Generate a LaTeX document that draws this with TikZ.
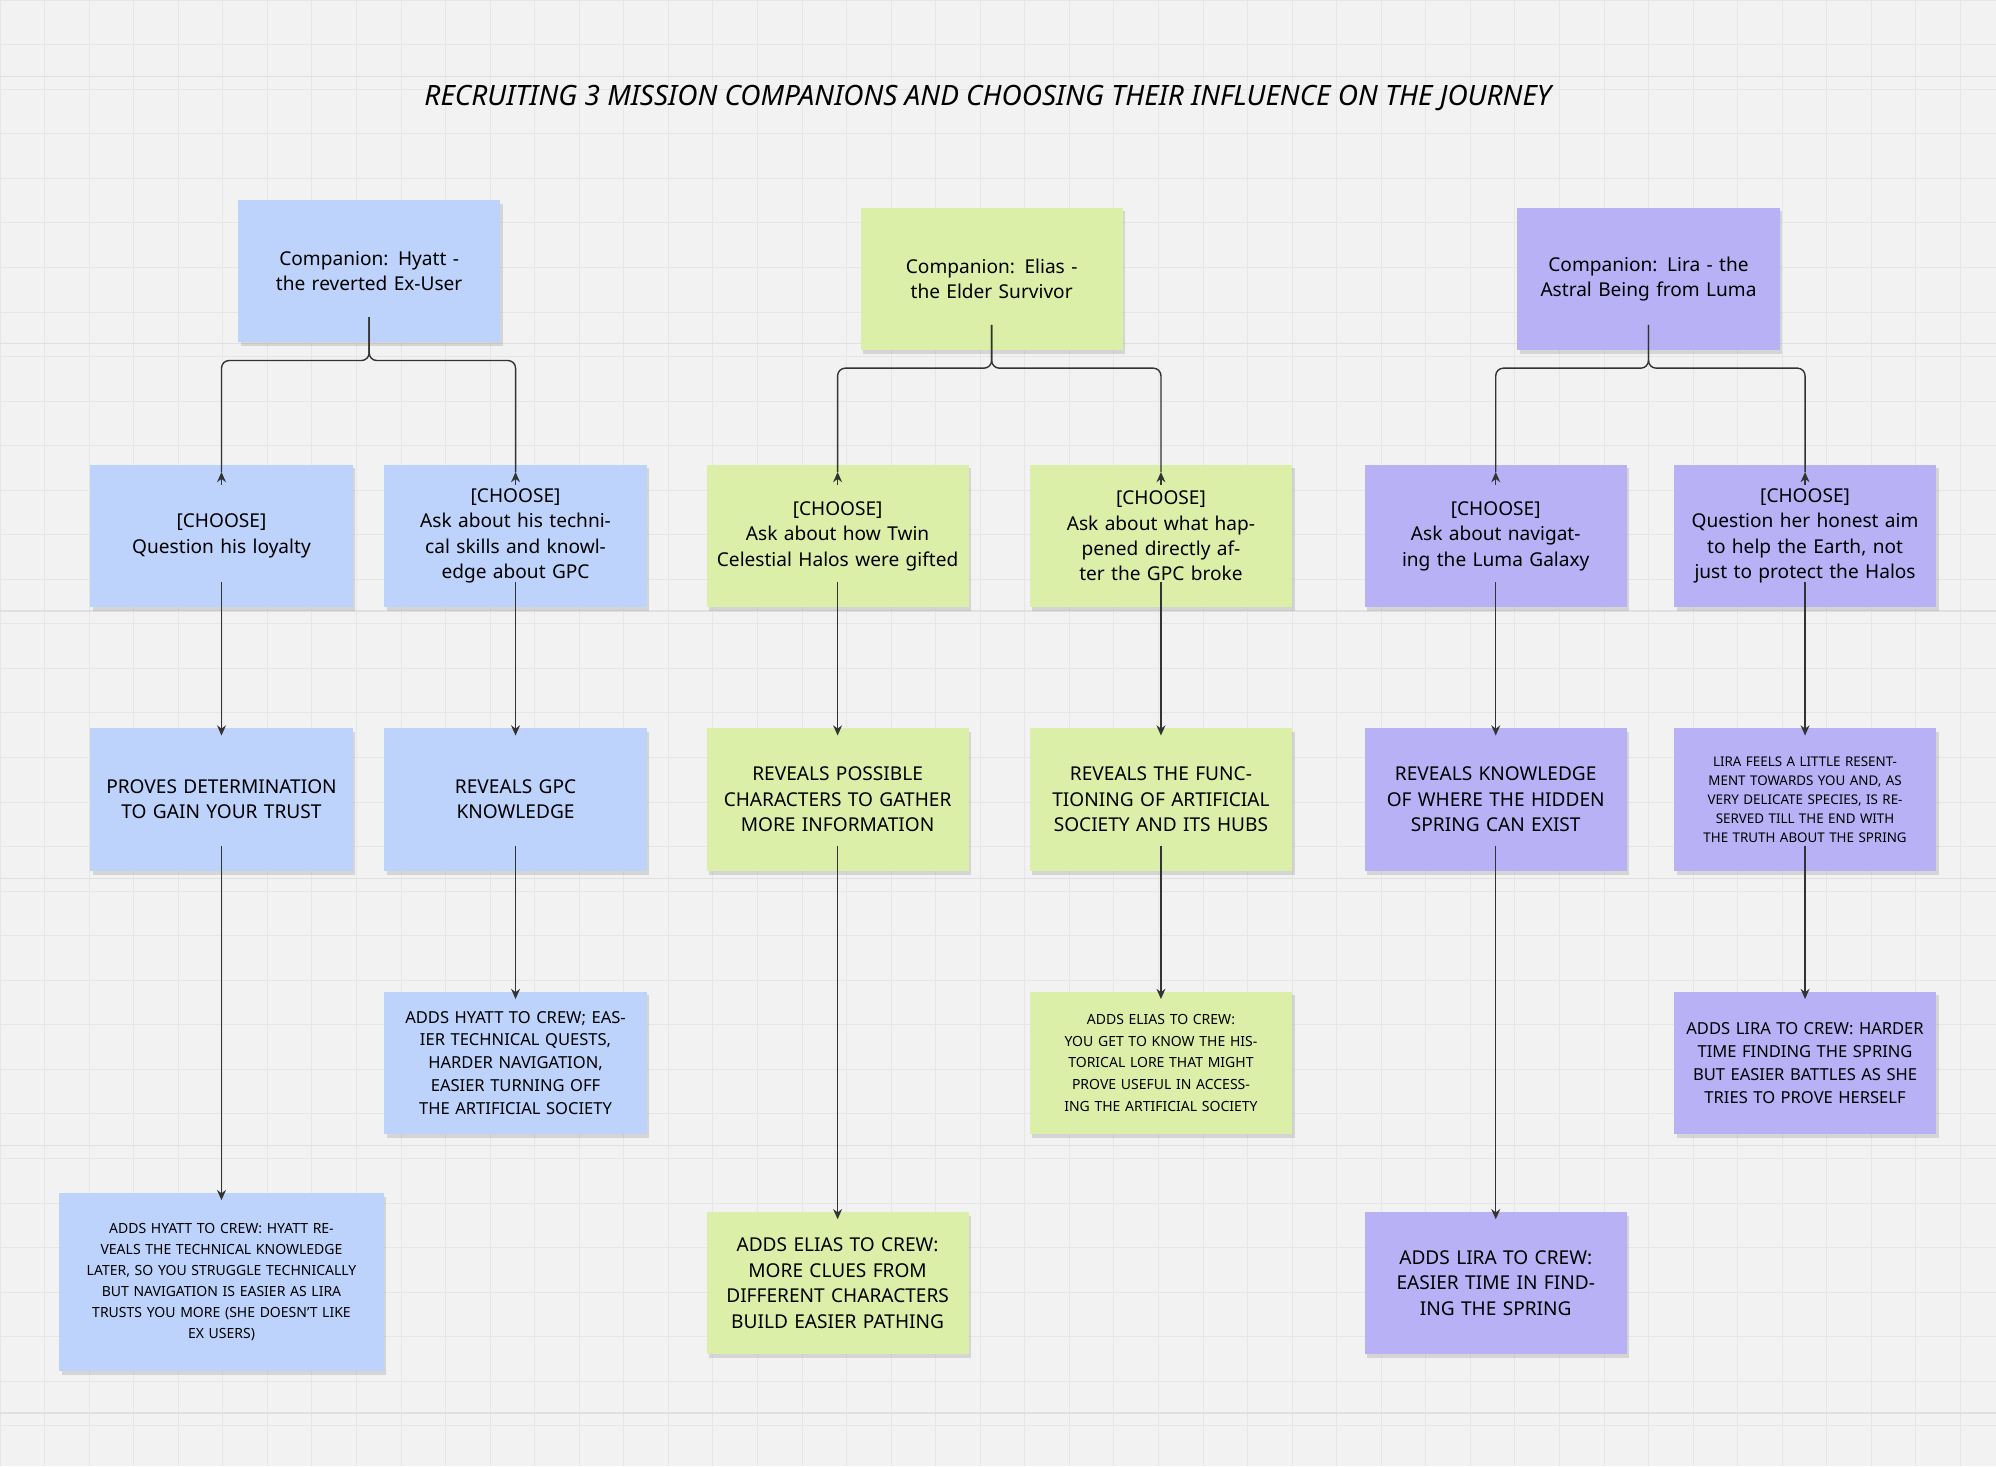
\documentclass[tikz,border=0pt]{standalone}
\usepackage{fontspec}
\setmainfont{Noto Sans}
\usetikzlibrary{arrows.meta,shadows}
\definecolor{bl}{HTML}{BDD3FB}
\definecolor{gr}{HTML}{DCEFA8}
\definecolor{pu}{HTML}{B9B1F5}
\definecolor{bg}{HTML}{F2F2F2}
\definecolor{gl}{HTML}{E6E6E6}
\begin{document}
\begin{tikzpicture}[x=1pt,y=-1pt,
 note/.style={minimum width=206pt,minimum height=112pt,text width=190pt,align=center,font=\fontsize{15}{20}\selectfont,inner sep=4pt,drop shadow={shadow xshift=2pt,shadow yshift=-3pt,opacity=0.25}},
 small/.style={font=\fontsize{12}{17}\selectfont},
 arr/.style={draw=black!80,line width=1.1pt,-{Stealth[length=8pt,width=7pt]}},
 ln/.style={draw=black!80,line width=1.1pt,rounded corners=6pt}]
\fill[bg] (0,0) rectangle (1568,1152);
\useasboundingbox (0,0) rectangle (1568,1152);
\foreach \x in {0,35,...,1568} \draw[gl,line width=0.6pt] (\x,0)--(\x,1152);
\foreach \y in {0,35,...,1152} \draw[gl,line width=0.6pt] (0,\y)--(1568,\y);
\foreach \y in {60,270,480,690,900,1110} \draw[black!12,line width=1pt] (0,\y)--(1568,\y);
\node (title) at (776,77) {\fontsize{22}{26}\selectfont\bfseries\itshape RECRUITING 3 MISSION COMPANIONS AND CHOOSING THEIR INFLUENCE ON THE JOURNEY};
% tops
\node[note,fill=bl] (h0) at (290,213) {Companion: Hyatt - the reverted Ex-User};
\node[note,fill=gr] (e0) at (779,219) {Companion: Elias - the Elder Survivor};
\node[note,fill=pu] (l0) at (1295,219) {Companion: Lira - the Astral Being from Luma};
% row1
\node[note,fill=bl] (a1) at (174,421) {[CHOOSE]\\Question his loyalty};
\node[note,fill=bl] (b1) at (405,421) {[CHOOSE]\\Ask about his technical skills and knowledge about GPC};
\node[note,fill=gr] (c1) at (658,421) {[CHOOSE]\\Ask about how Twin Celestial Halos were gifted};
\node[note,fill=gr] (d1) at (912,421) {[CHOOSE]\\Ask about what happened directly after the GPC broke};
\node[note,fill=pu] (f1) at (1175,421) {[CHOOSE]\\Ask about navigating the Luma Galaxy};
\node[note,fill=pu] (g1) at (1418,421) {[CHOOSE]\\Question her honest aim to help the Earth, not just to protect the Halos};
% row2
\node[note,fill=bl] (a2) at (174,628) {PROVES DETERMINATION TO GAIN YOUR TRUST};
\node[note,fill=bl] (b2) at (405,628) {REVEALS GPC\\KNOWLEDGE};
\node[note,fill=gr] (c2) at (658,628) {REVEALS POSSIBLE CHARACTERS TO GATHER MORE INFORMATION};
\node[note,fill=gr] (d2) at (912,628) {REVEALS THE FUNCTIONING OF ARTIFICIAL SOCIETY AND ITS HUBS};
\node[note,fill=pu] (f2) at (1175,628) {REVEALS KNOWLEDGE OF WHERE THE HIDDEN SPRING CAN EXIST};
\node[note,fill=pu,small,font=\fontsize{10.5}{15}\selectfont] (g2) at (1418,628) {LIRA FEELS A LITTLE RESENTMENT TOWARDS YOU AND, AS VERY DELICATE SPECIES, IS RESERVED TILL THE END WITH THE TRUTH ABOUT THE SPRING};
% row3
\node[note,fill=bl,font=\fontsize{13}{18}\selectfont] (b3) at (405,835) {ADDS HYATT TO CREW; EASIER TECHNICAL QUESTS, HARDER NAVIGATION, EASIER TURNING OFF THE ARTIFICIAL SOCIETY};
\node[note,fill=gr,font=\fontsize{11}{17}\selectfont] (d3) at (912,835) {ADDS ELIAS TO CREW:\\YOU GET TO KNOW THE HISTORICAL LORE THAT MIGHT PROVE USEFUL IN ACCESSING THE ARTIFICIAL SOCIETY};
\node[note,fill=pu,font=\fontsize{13}{18}\selectfont] (g3) at (1418,835) {ADDS LIRA TO CREW: HARDER TIME FINDING THE SPRING BUT EASIER BATTLES AS SHE TRIES TO PROVE HERSELF};
% row4
\node[note,fill=bl,minimum width=255pt,minimum height=140pt,text width=235pt,font=\fontsize{11}{16.5}\selectfont] (a4) at (174,1007) {ADDS HYATT TO CREW: HYATT REVEALS THE TECHNICAL KNOWLEDGE LATER, SO YOU STRUGGLE TECHNICALLY BUT NAVIGATION IS EASIER AS LIRA TRUSTS YOU MORE (SHE DOESN'T LIKE\\EX USERS)};
\node[note,fill=gr] (c4) at (658,1008) {ADDS ELIAS TO CREW: MORE CLUES FROM DIFFERENT CHARACTERS BUILD EASIER PATHING};
\node[note,fill=pu] (f4) at (1175,1008) {ADDS LIRA TO CREW: EASIER TIME IN FINDING THE SPRING};
% connectors
\foreach \p/\l/\r/\y in {h0/a1/b1/290, e0/c1/d1/295, l0/f1/g1/295}{
  \coordinate (\p s) at ([yshift=20pt]\p.south);
  \draw[ln] (\p s) -- ++(0,34) -| ([yshift=-6pt]\l.north);
  \draw[ln] (\p s) -- ++(0,34) -| ([yshift=-6pt]\r.north);
  \draw[arr] ([yshift=-16pt]\l.north) -- ([yshift=-6pt]\l.north);
  \draw[arr] ([yshift=-16pt]\r.north) -- ([yshift=-6pt]\r.north);
}
\foreach \s/\t in {a1/a2,b1/b2,c1/c2,d1/d2,f1/f2,g1/g2,b2/b3,d2/d3,g2/g3,a2/a4,c2/c4,f2/f4}
  \draw[arr] ([yshift=20pt]\s.south) -- ([yshift=-6pt]\t.north);
\end{tikzpicture}
\end{document}
